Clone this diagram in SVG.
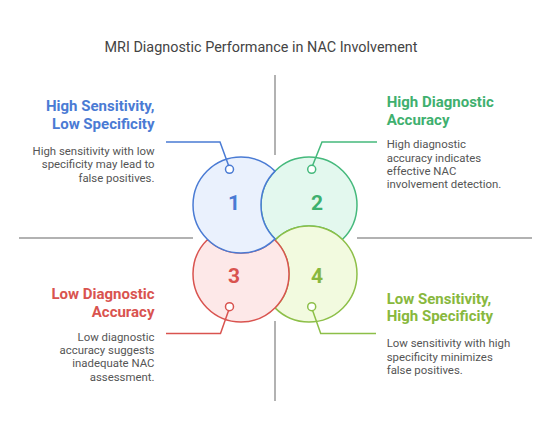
<svg xmlns="http://www.w3.org/2000/svg" width="550" height="440" viewBox="0 0 550 440">
<style>
.title{font-family:Roboto,"Liberation Sans",sans-serif;font-size:14.4px;fill:#444}
.head{font-family:Roboto,"Liberation Sans",sans-serif;font-size:15px;font-weight:bold}
.body{font-family:Roboto,"Liberation Sans",sans-serif;font-size:11.4px;fill:#555}
.num{font-family:Roboto,"Liberation Sans",sans-serif;font-size:21px;font-weight:bold;text-anchor:middle}
.sep{stroke:#999;stroke-width:1.5;fill:none}
.conn{fill:none;stroke-width:1.5}
.dot{fill:#fff;stroke-width:1.5}
.r{text-anchor:end}
</style>
<rect width="550" height="440" fill="#fff"/>
<text class="title" x="261" y="52" text-anchor="middle">MRI Diagnostic Performance in NAC Involvement</text>
<g id="separators">
<line class="sep" x1="275" y1="75" x2="275" y2="155"/>
<line class="sep" x1="275" y1="321" x2="275" y2="401"/>
<line class="sep" x1="19" y1="238" x2="193" y2="238"/>
<line class="sep" x1="357" y1="238" x2="532" y2="238"/>
</g>
<g id="node2">
<path d="M275.6,239.5 A48,48 0 1 1 342.4,239.5 A48,48 0 0 0 275.6,239.5 Z" fill="#e3f8ee" stroke="#45b97c" stroke-width="1.5"/>
<text class="num" x="317" y="210" fill="#3fb06f">2</text>
</g>
<g id="node4">
<path d="M275,240.1 A48,48 0 1 1 275,307.9 A48,48 0 0 0 275,240.1 Z" fill="#f2fadf" stroke="#8dbf48" stroke-width="1.5"/>
<text class="num" x="317" y="283" fill="#88b83d">4</text>
</g>
<g id="node3">
<path d="M274.4,239.5 A48,48 0 1 1 207.6,239.5 A48,48 0 0 0 274.4,239.5 Z" fill="#fde8e8" stroke="#d9534f" stroke-width="1.5"/>
<text class="num" x="234" y="283" fill="#d9534f">3</text>
</g>
<g id="node1">
<path d="M275,171.1 A48,48 0 1 0 275,238.9 A48,48 0 0 1 275,171.1 Z" fill="#eaf1fd" stroke="#4a7bd4" stroke-width="1.5"/>
<text class="num" x="234" y="210" fill="#4a7bd4">1</text>
</g>
<g id="connectors">
<polyline class="conn" stroke="#4a7bd4" points="166,142 220,142 228.5,165.3"/>
<circle class="dot" cx="229.5" cy="169.3" r="4" stroke="#4a7bd4"/>
<polyline class="conn" stroke="#45b97c" points="377,142 322,142 312.7,165.3"/>
<circle class="dot" cx="311.7" cy="169.3" r="4" stroke="#45b97c"/>
<polyline class="conn" stroke="#d9534f" points="166,333.5 220.5,333.5 228.5,310.7"/>
<circle class="dot" cx="229.5" cy="306.7" r="4" stroke="#d9534f"/>
<polyline class="conn" stroke="#8dbf48" points="376,333.5 320.7,333.5 312.7,310.7"/>
<circle class="dot" cx="311.7" cy="306.7" r="4" stroke="#8dbf48"/>
</g>
<g id="label1">
<text class="head r" x="154.5" y="111" fill="#4a7bd4">High Sensitivity,</text>
<text class="head r" x="154.5" y="128.5" fill="#4a7bd4">Low Specificity</text>
<text class="body r" x="154.5" y="155">High sensitivity with low</text>
<text class="body r" x="154.5" y="168.3">specificity may lead to</text>
<text class="body r" x="154.5" y="181.6">false positives.</text>
</g>
<g id="label2">
<text class="head" x="386.7" y="107" fill="#3fb06f">High Diagnostic</text>
<text class="head" x="386.7" y="125" fill="#3fb06f">Accuracy</text>
<text class="body" x="386.7" y="148.3">High diagnostic</text>
<text class="body" x="386.7" y="161.6">accuracy indicates</text>
<text class="body" x="386.7" y="174.9">effective NAC</text>
<text class="body" x="386.7" y="188.2">involvement detection.</text>
</g>
<g id="label3">
<text class="head r" x="154.5" y="298.5" fill="#d9534f">Low Diagnostic</text>
<text class="head r" x="154.5" y="316.7" fill="#d9534f">Accuracy</text>
<text class="body r" x="154.5" y="340.7">Low diagnostic</text>
<text class="body r" x="154.5" y="354">accuracy suggests</text>
<text class="body r" x="154.5" y="367.3">inadequate NAC</text>
<text class="body r" x="154.5" y="380.6">assessment.</text>
</g>
<g id="label4">
<text class="head" x="386.7" y="303.5" fill="#88b83d">Low Sensitivity,</text>
<text class="head" x="386.7" y="321" fill="#88b83d">High Specificity</text>
<text class="body" x="386.7" y="347.3">Low sensitivity with high</text>
<text class="body" x="386.7" y="360.6">specificity minimizes</text>
<text class="body" x="386.7" y="373.9">false positives.</text>
</g>
</svg>
